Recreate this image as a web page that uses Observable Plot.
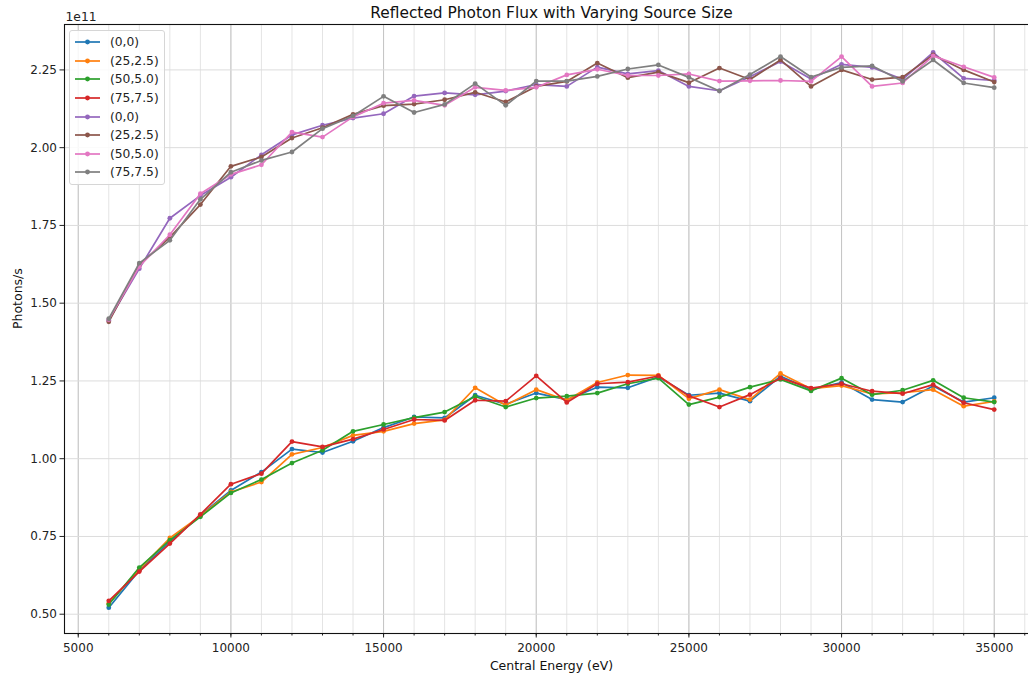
<!DOCTYPE html>
<html>
<head>
<meta charset="utf-8">
<script src="https://cdn.jsdelivr.net/npm/d3@7"></script>
<script src="https://cdn.jsdelivr.net/npm/@observablehq/plot@0.6"></script>
<style>
  body { margin: 0; background: #fff; font-family: "DejaVu Sans", sans-serif; }
  #wrap { position: relative; width: 1028px; height: 678px; overflow: hidden; }
  #legend {
    position: absolute; left: 69px; top: 30px; width: 96px; height: 155px;
    box-sizing: border-box; border: 1px solid #d6d6d6; border-radius: 3px;
    background: rgba(255,255,255,0.85); padding-top: 2px;
  }
  .row { display: flex; align-items: center; height: 18.6px; font-size: 12.3px; color: #222; }
  .row svg { margin-left: 5px; margin-right: 10px; }
</style>
</head>
<body>
<div id="wrap"><div id="legend"></div></div>
<script>
// Central energy of each scan point (eV)
const energy = [6000, 7000, 8000, 9000, 10000, 11000, 12000, 13000, 14000, 15000,
  16000, 17000, 18000, 19000, 20000, 21000, 22000, 23000, 24000, 25000,
  26000, 27000, 28000, 29000, 30000, 31000, 32000, 33000, 34000, 35000];

// Reflected flux, in units of 1e11 photons/s — lower group
const lowA0 = [0.521, 0.641, 0.733, 0.818, 0.898, 0.957, 1.031, 1.020, 1.056, 1.100,
  1.134, 1.131, 1.204, 1.175, 1.211, 1.190, 1.230, 1.228, 1.263, 1.204,
  1.211, 1.185, 1.265, 1.222, 1.245, 1.190, 1.182, 1.234, 1.182, 1.196];
const lowA25 = [0.535, 0.644, 0.745, 0.816, 0.893, 0.925, 1.014, 1.036, 1.075, 1.088,
  1.113, 1.125, 1.228, 1.172, 1.222, 1.188, 1.245, 1.269, 1.268, 1.193,
  1.222, 1.190, 1.274, 1.225, 1.235, 1.208, 1.212, 1.222, 1.169, 1.184];
const lowA50 = [0.531, 0.650, 0.738, 0.813, 0.890, 0.933, 0.986, 1.027, 1.088, 1.110,
  1.132, 1.150, 1.200, 1.166, 1.195, 1.201, 1.211, 1.241, 1.259, 1.174,
  1.198, 1.230, 1.255, 1.218, 1.259, 1.206, 1.220, 1.252, 1.196, 1.182];
const lowA75 = [0.543, 0.637, 0.727, 0.821, 0.918, 0.952, 1.055, 1.038, 1.063, 1.094,
  1.126, 1.123, 1.188, 1.185, 1.266, 1.181, 1.241, 1.246, 1.266, 1.202,
  1.166, 1.206, 1.259, 1.227, 1.241, 1.217, 1.209, 1.238, 1.180, 1.158];

// Upper group
const highB0 = [1.445, 1.611, 1.773, 1.846, 1.905, 1.977, 2.041, 2.072, 2.095, 2.109,
  2.166, 2.176, 2.170, 2.182, 2.203, 2.197, 2.259, 2.237, 2.248, 2.197,
  2.183, 2.228, 2.277, 2.221, 2.268, 2.258, 2.220, 2.306, 2.223, 2.216];
const highB25 = [1.440, 1.623, 1.712, 1.817, 1.940, 1.970, 2.031, 2.064, 2.107, 2.135,
  2.140, 2.154, 2.178, 2.147, 2.197, 2.213, 2.272, 2.225, 2.243, 2.209,
  2.256, 2.219, 2.282, 2.197, 2.250, 2.219, 2.227, 2.298, 2.250, 2.211];
const highB50 = [1.447, 1.618, 1.720, 1.852, 1.914, 1.945, 2.050, 2.034, 2.099, 2.143,
  2.152, 2.136, 2.194, 2.184, 2.194, 2.234, 2.252, 2.232, 2.232, 2.237,
  2.214, 2.215, 2.216, 2.213, 2.293, 2.197, 2.208, 2.295, 2.260, 2.226];
const highB75 = [1.450, 1.629, 1.702, 1.834, 1.921, 1.959, 1.986, 2.061, 2.102, 2.165,
  2.113, 2.139, 2.206, 2.136, 2.214, 2.214, 2.229, 2.253, 2.266, 2.226,
  2.182, 2.235, 2.293, 2.227, 2.258, 2.263, 2.213, 2.282, 2.208, 2.193];

const seriesLabels = ["(0,0)", "(25,2.5)", "(50,5.0)", "(75,7.5)",
  "(0,0)", "(25,2.5)", "(50,5.0)", "(75,7.5)"];
const seriesValues = [lowA0, lowA25, lowA50, lowA75, highB0, highB25, highB50, highB75];
const colors = ["#1f77b4", "#ff7f0e", "#2ca02c", "#d62728",
  "#9467bd", "#8c564b", "#e377c2", "#7f7f7f"];

const yTicks = [0.50, 0.75, 1.00, 1.25, 1.50, 1.75, 2.00, 2.25];
const xTicks = [5000, 10000, 15000, 20000, 25000, 30000, 35000];
const xMinor = d3.range(5000, 36001, 1000);

const font = "DejaVu Sans";

// one line + dot layer per series, in drawing order
const seriesMarks = seriesValues.flatMap((vals, i) => {
  const rows = energy.map((e, j) => ({energy: e, flux: vals[j]}));
  return [
    Plot.line(rows, {x: "energy", y: "flux", stroke: colors[i], strokeWidth: 1.7}),
    Plot.dot(rows, {x: "energy", y: "flux", fill: colors[i], r: 2.4})
  ];
});

const chart = Plot.plot({
  width: 1028,
  height: 678,
  marginLeft: 64,
  marginRight: -10,
  marginTop: 24,
  marginBottom: 45,
  x: {domain: [4550, 36450]},
  y: {domain: [0.438, 2.396]},
  style: {fontFamily: font, fontSize: "12px", color: "#222", background: "white"},
  marks: [
    Plot.gridX({ticks: xMinor, stroke: "#e4e4e4", strokeOpacity: 1, strokeWidth: 1}),
    Plot.gridX({ticks: xTicks, stroke: "#c4c4c4", strokeOpacity: 1, strokeWidth: 1}),
    Plot.gridY({ticks: yTicks, stroke: "#dcdcdc", strokeOpacity: 1, strokeWidth: 1}),
    Plot.axisX({ticks: xMinor, tickSize: 2.5, text: null, label: null, stroke: "#222"}),
    Plot.axisX({ticks: xTicks, tickSize: 4.5, tickPadding: 5, tickFormat: d3.format("d"),
      label: null, stroke: "#222", fill: "#222"}),
    Plot.axisY({ticks: yTicks, tickSize: 4.5, tickPadding: 3, tickFormat: d3.format(".2f"),
      label: null, stroke: "#222", fill: "#222"}),
    ...seriesMarks,
    Plot.frame({stroke: "#111", strokeWidth: 1.1}),
    Plot.text(["Reflected Photon Flux with Varying Source Size"], {
      frameAnchor: "top", lineAnchor: "middle", dy: -11.5, fontSize: 15.4, fill: "#111"}),
    Plot.text(["1e11"], {frameAnchor: "top-left", lineAnchor: "middle", textAnchor: "start",
      dx: 1, dy: -7, fontSize: 12.3, fill: "#222"}),
    Plot.text(["Photons/s"], {frameAnchor: "left", dx: -47, rotate: -90,
      fontSize: 12.5, fill: "#111"}),
    Plot.text(["Central Energy (eV)"], {frameAnchor: "bottom", lineAnchor: "middle", dy: 32,
      fontSize: 12.5, fill: "#111"})
  ]
});

const wrap = document.getElementById("wrap");
wrap.insertBefore(chart, wrap.firstChild);

// legend box, same entries as the plotted series
const legend = d3.select("#legend");
seriesLabels.forEach((label, i) => {
  const row = legend.append("div").attr("class", "row");
  const sw = row.append("svg").attr("width", 25).attr("height", 10);
  sw.append("line").attr("x1", 0).attr("x2", 25).attr("y1", 5).attr("y2", 5)
    .attr("stroke", colors[i]).attr("stroke-width", 1.7);
  sw.append("circle").attr("cx", 12.5).attr("cy", 5).attr("r", 2.4).attr("fill", colors[i]);
  row.append("span").text(label);
});
</script>
</body>
</html>
